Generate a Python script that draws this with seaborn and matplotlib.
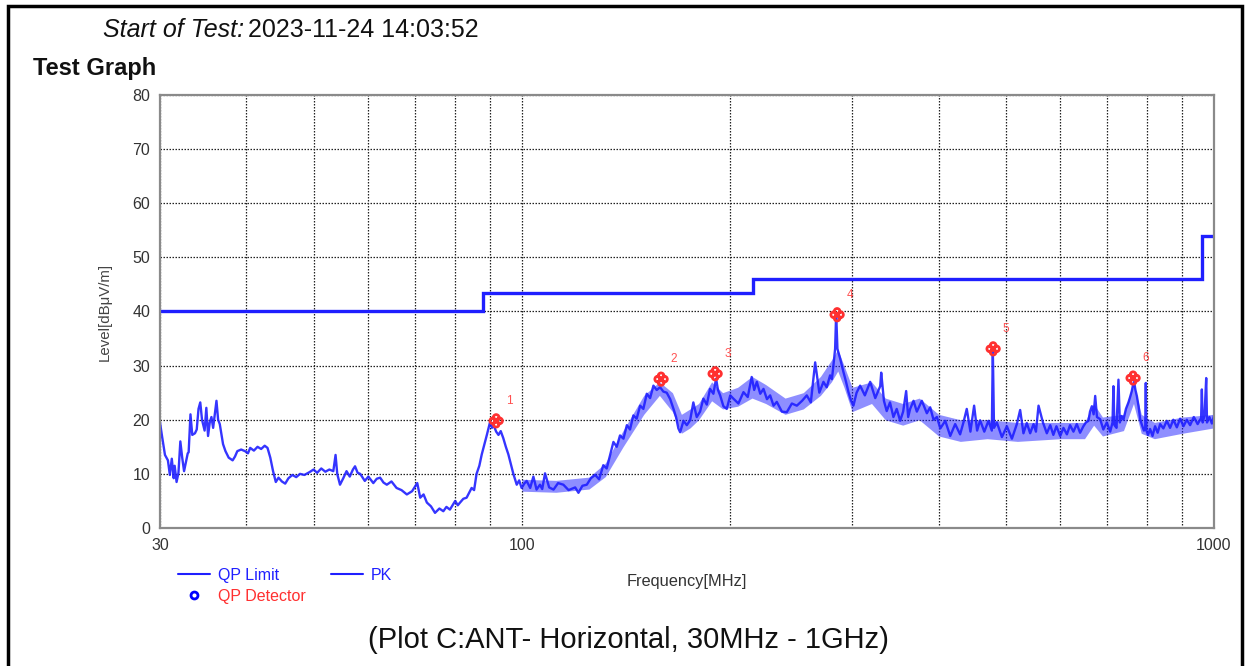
import matplotlib
matplotlib.use("Agg")
import matplotlib.pyplot as plt
import seaborn as sns
import numpy as np
import pandas as pd
from matplotlib.lines import Line2D
from matplotlib.path import Path
from matplotlib.patches import Rectangle
from matplotlib.ticker import FixedLocator, FixedFormatter, NullFormatter

# PK sweep (MHz, dBuV/m)
pk_freq = [
    30.0, 30.2, 30.5, 30.8, 31.0, 31.2, 31.4, 31.5, 31.7, 31.9, 32.1, 32.3, 32.5, 32.7, 32.9,
    33.0, 33.2, 33.4, 33.7, 33.9, 34.1, 34.3, 34.5, 34.8, 35.0, 35.2, 35.4, 35.6, 35.8, 36.0,
    36.2, 36.4, 36.6, 37.0, 37.3, 37.7, 38.2, 38.5, 38.8, 39.3, 39.8, 40.2, 40.5, 41.0, 41.5,
    42.0, 42.5, 42.9, 43.3, 43.7, 44.1, 44.5, 45.0, 45.5, 46.0, 46.6, 47.2, 47.8, 48.5, 49.3,
    50.0, 50.6, 51.3, 52.0, 52.7, 53.4, 53.8, 54.1,
    54.6, 55.2, 55.8, 56.4, 57.0, 57.4, 57.9, 58.4, 59.3, 60.0, 61.0, 61.7, 62.4, 63.1, 63.8,
    64.8, 65.9, 67.0, 68.2, 69.4, 70.6, 71.3, 72.1, 72.9, 73.9, 74.9, 76.0, 77.0, 77.8, 78.7,
    80.1, 80.8, 81.4, 82.3, 83.2, 84.6, 85.3, 86.0, 86.8, 87.5, 88.3, 89.0, 90.0, 90.5, 91.0,
    91.8, 92.5, 93.2, 94.0, 94.8, 95.6, 96.4, 97.2, 98.3, 99.1, 99.9, 100.8, 101.6, 102.8,
    103.9, 105.0,
    106.2, 107.0, 108.0, 109.5, 111.1, 112.8, 114.8, 116.8, 119.4, 120.7, 122.3, 124.1, 125.8,
    127.6, 129.3, 131.1, 132.6, 134.1, 135.6, 137.1, 138.6, 140.2, 141.8, 143.3, 144.9, 146.5,
    148.2, 149.8, 151.5, 153.2, 154.9, 156.6, 158.4, 160.1, 161.9, 163.8, 165.6, 167.0, 168.3,
    169.3, 171.2, 173.1, 175.0, 176.9, 178.9, 180.9,
    182.9, 185.0, 187.0, 189.1, 190.8, 192.0, 193.4, 195.5, 197.7, 200.0, 202.1, 205.5, 209.0,
    212.0, 214.8, 216.6, 218.5, 221.0, 223.4, 226.0, 228.4, 231.0, 233.5, 237.5, 241.4, 245.5,
    249.6, 254.0, 258.0, 261.5, 265.3, 269.0, 272.7, 275.7, 278.8, 280.5, 281.9, 283.5, 284.5,
    285.7, 288.3, 291.5, 294.0, 296.4, 299.0, 301.3, 304.5, 308.1, 313.0, 318.6,
    324.0, 329.4, 330.5, 333.5, 336.6, 340.3, 344.2, 348.0, 352.0, 355.5, 359.1, 361.5, 363.9,
    368.0, 372.1, 378.3, 384.7, 389.0, 393.3, 397.8, 402.3, 409.0, 415.8, 422.7, 429.7, 434.5,
    439.3, 444.7, 450.2, 454.7, 459.3, 465.7, 472.2, 477.5, 479.1, 481.0, 485.6, 493.8, 502.0,
    510.5, 519.0, 524.7, 530.5, 536.4, 542.5, 548.6, 553.0, 557.8,
    566.0, 573.4, 580.0, 586.0, 592.0, 599.5, 606.0, 613.0, 619.5, 626.5, 633.5, 640.5, 647.6,
    653.0, 658.6, 662.0, 666.1, 670.0, 673.5, 677.5, 684.8, 692.0, 700.0, 708.0, 713.5, 715.6,
    718.0, 723.0, 727.7, 731.0, 735.0, 739.9, 746.0, 752.3, 756.5, 760.7, 764.0, 766.7, 770.0,
    773.6, 778.0, 782.2, 787.0, 792.0, 795.5, 797.0, 798.5, 803.0, 808.5, 815.0, 822.0, 829.0,
    836.0, 845.0, 854.8, 864.0, 873.5, 883.7, 893.5, 903.4, 913.5, 923.6, 935.0, 947.0, 958.0,
    960.4, 963.0, 969.0, 974.4, 977.0, 985.0, 993.0, 1000.0,
]
pk_level = [
    19.5, 17.0, 13.5, 12.5, 9.8, 12.8, 9.2, 11.5, 8.5, 10.2, 16.0, 13.0, 10.5, 12.2, 13.8,
    14.0, 21.0, 17.2, 17.5, 18.2, 22.0, 23.2, 20.0, 18.0, 22.2, 17.0, 19.5, 20.5, 18.5, 21.0,
    23.5, 20.0, 19.2, 15.5, 14.2, 13.0, 12.5, 13.2, 14.2, 14.5, 14.2, 13.8, 14.8, 14.3, 15.0,
    14.6, 15.2, 14.8, 13.0, 10.5, 8.5, 9.3, 8.6, 8.2, 9.2, 9.8, 9.4, 10.0, 9.8, 10.3,
    10.8, 10.2, 11.0, 10.4, 10.8, 10.5, 13.5, 10.0,
    8.0, 9.2, 10.5, 9.5, 10.8, 11.4, 10.2, 10.0, 8.7, 9.5, 8.3, 9.1, 9.3, 8.4, 8.0,
    8.6, 7.4, 7.0, 6.2, 6.8, 8.3, 5.6, 6.2, 4.7, 4.0, 2.8, 3.6, 3.1, 3.9, 3.4,
    5.0, 4.2, 4.7, 5.4, 5.6, 7.4, 7.0, 10.0, 11.5, 13.6, 15.5, 17.2, 19.7, 18.5, 19.0,
    17.8, 17.2, 17.9, 16.6, 15.0, 13.6, 11.8, 10.0, 8.0, 8.8, 7.4, 8.2, 8.7, 7.4,
    9.5, 7.1,
    8.0, 7.2, 10.1, 7.5, 7.1, 8.3, 8.0, 7.0, 7.5, 6.5, 7.8, 8.0, 9.2,
    9.8, 9.0, 11.6, 11.0, 13.5, 15.9, 15.0, 17.1, 16.5, 19.0, 18.2, 20.8, 20.2,
    22.6, 22.0, 24.8, 24.0, 26.3, 25.5, 26.0, 25.2, 25.0, 23.8, 22.0, 20.5, 18.4,
    17.7, 19.8, 19.0, 19.9, 23.2, 20.5, 21.5,
    23.9, 22.8, 25.7, 24.8, 27.6, 25.5, 24.5, 22.5, 22.0, 24.5, 23.9, 23.0, 25.1,
    24.2, 27.9, 25.5, 27.0, 24.8, 25.7, 23.8, 24.5, 22.6, 23.3, 21.5, 21.4, 23.0,
    22.6, 23.5, 24.5, 23.2, 30.6, 25.0, 27.0, 26.0, 28.2, 27.5, 30.0, 33.1, 39.6,
    33.1, 31.3, 28.8, 27.0, 25.1, 23.5, 22.6, 25.0, 26.3, 24.5, 27.0,
    24.0, 26.2, 28.7, 23.5, 21.6, 23.2, 20.5, 22.0, 19.8, 21.5, 25.3, 20.5, 22.0,
    23.5, 21.5, 23.5, 21.2, 22.3, 20.0, 20.5, 18.4, 19.8, 17.0, 19.2, 17.3, 19.5,
    22.0, 17.8, 22.6, 18.0, 19.9, 17.8, 19.8, 18.0, 33.0, 18.5, 19.5, 16.8, 18.8,
    16.5, 19.2, 21.8, 17.5, 19.4, 17.5, 19.2, 17.8, 22.6,
    19.5, 17.5, 19.0, 17.2, 18.8, 17.0, 18.5, 17.3, 19.0, 17.8, 19.2, 17.6, 18.8,
    19.5, 19.8, 21.5, 22.5, 21.0, 24.4, 20.5, 20.1, 18.2, 19.5, 17.8, 19.5, 26.2,
    19.0, 18.5, 27.4, 19.5, 20.7, 20.0, 22.0, 23.2, 24.2, 25.3, 26.5, 27.0, 25.5,
    24.4, 22.5, 20.1, 19.0, 18.0, 18.5, 26.8, 18.0, 17.2, 18.3, 17.0, 18.8, 17.6,
    19.2, 18.4, 19.8, 18.5, 20.0, 18.6, 20.2, 18.8, 20.0, 19.0, 20.5, 19.2, 20.3,
    25.6, 19.5, 20.8, 27.7, 19.5, 20.5, 19.3, 20.8,
]

# dense noise band of the PK sweep above 100 MHz (lower / upper edge)
band_freq = [100, 112, 125, 132, 140, 150, 158, 165, 170, 175, 180, 188, 195, 205, 215,
             225, 240, 255, 270, 280, 286, 292, 300, 320, 335, 355, 375, 400, 430, 470,
             520, 600, 650, 670, 690, 740, 765, 785, 820, 900, 1000]
band_low = [6.8, 6.6, 7.2, 9.5, 15.0, 21.0, 24.5, 21.5, 17.5, 18.5, 20.0, 23.5, 22.0, 22.5, 24.0,
            23.0, 21.0, 22.0, 24.5, 27.0, 29.0, 26.0, 21.5, 23.0, 20.0, 19.0, 20.0, 17.0, 16.0, 16.5,
            16.0, 16.5, 16.5, 19.0, 17.0, 18.0, 23.0, 17.5, 16.5, 17.5, 18.5]
band_high = [9.0, 8.8, 9.4, 12.0, 18.0, 24.5, 27.0, 25.0, 21.0, 22.0, 23.0, 27.0, 25.0, 26.0, 28.0,
             26.5, 24.0, 25.0, 28.0, 31.0, 33.0, 30.0, 26.0, 27.0, 24.0, 23.0, 24.0, 21.0, 20.0, 20.0,
             19.5, 19.5, 19.5, 23.0, 20.5, 21.0, 27.0, 21.0, 19.5, 20.5, 21.0]

# QP limit (stepped)
limit_edges = [30, 88, 216, 960, 1000]
limit_levels = [40, 43.5, 46, 54]

# QP detector results
qp_freq = [91.8, 158.9, 190.2, 285.4, 479.6, 764.0]
qp_level = [19.8, 27.5, 28.5, 39.4, 33.1, 27.7]
qp_label = ["1", "2", "3", "4", "5", "6"]

blue = "#1f1fff"
red = "#ff3030"

sns.set_theme(style="white")
plt.rcParams["font.family"] = ["Liberation Sans", "DejaVu Sans"]

fig = plt.figure(figsize=(12.5, 6.66), dpi=100)
ax = fig.add_axes([0.128, 0.2072, 0.8432, 0.6502])

ax.fill_between(band_freq, band_low, band_high, color=blue, alpha=0.5, lw=0)
pk = pd.DataFrame({"freq": pk_freq, "level": pk_level})
sns.lineplot(data=pk, x="freq", y="level", ax=ax, color=blue, lw=1.7,
             estimator=None, sort=False, alpha=0.9)
ax.stairs(limit_levels, limit_edges, color=blue, lw=2.4, baseline=None)

# four-lobed marker used by the receiver software
lobes = [Path.circle((dx, dy), 0.42) for dx, dy in [(0.5, 0), (-0.5, 0), (0, 0.5), (0, -0.5)]]
qp_marker = Path.make_compound_path(*lobes)
qp = pd.DataFrame({"freq": qp_freq, "level": qp_level})
sns.scatterplot(data=qp, x="freq", y="level", ax=ax, marker=qp_marker, s=80,
                facecolor="none", edgecolor=red, linewidth=2.0, zorder=5)
for f, lv, lab in zip(qp_freq, qp_level, qp_label):
    ax.annotate(lab, (f, lv), xytext=(7, 12), textcoords="offset points",
                color="#ff5050", fontsize=8.5)

ax.set_xscale("log")
ax.set_xlim(30, 1000)
ax.set_ylim(0, 80)
ax.set_yticks(range(0, 81, 10))
ax.xaxis.set_major_locator(FixedLocator([30, 100, 1000]))
ax.xaxis.set_major_formatter(FixedFormatter(["30", "100", "1000"]))
ax.xaxis.set_minor_locator(FixedLocator([40, 50, 60, 70, 80, 90, 200, 300, 400, 500, 600, 700, 800, 900]))
ax.xaxis.set_minor_formatter(NullFormatter())
ax.grid(True, which="both", color="#222222", linestyle=(0, (1.2, 1.2)), linewidth=0.9)
ax.tick_params(axis="both", which="both", length=0, labelsize=11.5, labelcolor="#333333")
ax.tick_params(axis="y", pad=7)
ax.tick_params(axis="x", pad=7)
for sp in ax.spines.values():
    sp.set_color("#8a8a8a")
    sp.set_linewidth(1.6)

ax.set_xlabel("Frequency[MHz]", fontsize=11.8, color="#333333")
ax.set_ylabel("Level[dB\u03bcV/m]", fontsize=10.8, color="#444444")
ax.xaxis.set_label_coords(0.5, -0.106)
ax.yaxis.set_label_coords(-0.0455, 0.5)

handles = [
    Line2D([], [], color=blue, lw=1.5),
    Line2D([], [], color="blue", marker="o", ls="none", ms=5, mfc="none", mew=2),
    Line2D([], [], color=blue, lw=1.5),
]
leg = fig.legend(handles, ["QP Limit", "QP Detector", "PK"], ncol=2, frameon=False,
                 loc="upper left", bbox_to_anchor=(178 / 1250, 1 - 568 / 666),
                 fontsize=11.5, handlelength=2.0, handletextpad=0.5, columnspacing=1.6,
                 labelspacing=0.35, borderpad=0, borderaxespad=0)
for txt, col in zip(leg.get_texts(), [blue, red, blue]):
    txt.set_color(col)

fig.text(103 / 1250, 1 - 30 / 666, "Start of Test:", style="italic", fontsize=18,
         va="center", ha="left", color="#111111")
fig.text(248 / 1250, 1 - 30 / 666, "2023-11-24 14:03:52", fontsize=18,
         va="center", ha="left", color="#111111")
fig.text(33 / 1250, 1 - 69 / 666, "Test Graph", fontweight="bold", fontsize=17,
         va="center", ha="left", color="#111111")
fig.text(628 / 1250, 1 - 640 / 666, "(Plot C:ANT- Horizontal, 30MHz - 1GHz)", fontsize=21,
         va="center", ha="center", color="#111111")

fig.patches.append(Rectangle((8 / 1250, -0.02), 1234 / 1250, 1 - 6 / 666 + 0.02,
                             transform=fig.transFigure, fill=False, edgecolor="black",
                             linewidth=2.5))

fig.savefig("out.png", dpi=100)
